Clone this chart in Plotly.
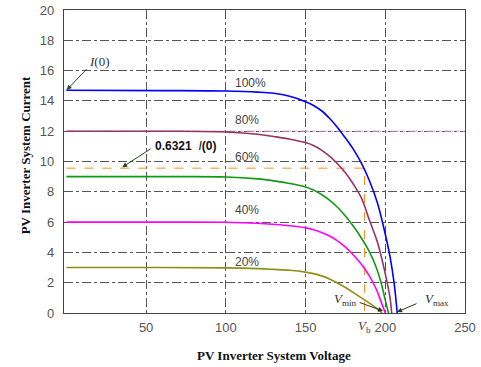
import plotly.graph_objects as go

# ---- data ----
V100 = [0, 60, 100, 120, 130, 140, 150, 155, 160, 165, 170, 175, 180, 185, 190, 195, 200, 203, 205.5, 207.5]
I100 = [14.7, 14.68, 14.65, 14.58, 14.5, 14.3, 13.95, 13.7, 13.35, 12.85, 12.25, 11.55, 10.8, 9.9, 8.75, 7.3, 5.2, 3.7, 2.0, 0]

V80 = [0, 60, 100, 120, 130, 140, 150, 155, 160, 165, 170, 175, 180, 185, 190, 195, 198, 201, 203, 204]
I80 = [12.0, 12.0, 11.95, 11.8, 11.65, 11.48, 11.25, 11.05, 10.75, 10.35, 9.85, 9.25, 8.5, 7.6, 6.15, 4.7, 3.5, 2.1, 1.0, 0]

V60 = [0, 60, 100, 120, 130, 140, 150, 155, 160, 165, 170, 175, 180, 185, 190, 194, 197, 200, 202]
I60 = [9.0, 9.0, 8.98, 8.85, 8.72, 8.55, 8.32, 8.12, 7.82, 7.45, 6.98, 6.4, 5.72, 4.95, 4.05, 3.1, 2.15, 0.85, 0]

V40 = [0, 60, 100, 120, 130, 140, 150, 155, 160, 165, 170, 175, 180, 185, 190, 194, 197, 200]
I40 = [6.0, 6.0, 5.99, 5.92, 5.85, 5.76, 5.62, 5.5, 5.32, 5.08, 4.76, 4.35, 3.83, 3.22, 2.45, 1.65, 0.85, 0]

V20 = [0, 60, 100, 120, 130, 140, 150, 155, 160, 165, 170, 175, 180, 185, 190, 194, 198]
I20 = [3.0, 3.0, 2.98, 2.93, 2.88, 2.82, 2.7, 2.6, 2.45, 2.25, 1.98, 1.68, 1.35, 1.0, 0.65, 0.35, 0]

series_names = ["100%", "80%", "60%", "40%", "20%"]
series_colors = ["#0000ff", "#993366", "#119911", "#ff00ff", "#8f8f14"]
label_y = [15.2, 12.76, 10.3, 6.81, 3.39]

ref80_level = 12.0          # dash-dot reference line
Vb = 187                    # V_b
Ib = 9.56                   # 0.6321 I(0)

x_ticks = [50, 100, 150, 200, 250]
y_ticks = list(range(0, 21, 2))

fig = go.Figure()

# reference lines
fig.add_trace(go.Scatter(x=[0, 250], y=[ref80_level, ref80_level], mode="lines",
                         line=dict(color="#cc99cc", width=1, dash="dashdot"), hoverinfo="skip"))
fig.add_trace(go.Scatter(x=[0, Vb, Vb], y=[Ib, Ib, 0], mode="lines",
                         line=dict(color="#ff8c1a", width=1, dash="dash"), hoverinfo="skip"))

for V, I, c in zip([V100, V80, V60, V40, V20], [I100, I80, I60, I40, I20], series_colors):
    fig.add_trace(go.Scatter(x=V, y=I, mode="lines",
                             line=dict(color=c, width=1.6, shape="spline", smoothing=1.0),
                             hoverinfo="skip"))

ann = []
for name, yy in zip(series_names, label_y):
    ann.append(dict(x=104.7, y=yy, text=name, showarrow=False, xanchor="left", yanchor="middle",
                    font=dict(family="Liberation Sans, Arial", size=12, color="#444444")))

arrow_col = "#1f4a1f"
# I(0)
ann.append(dict(x=0.2, y=14.72, ax=13.6, ay=16.2, axref="x", ayref="y", text="", showarrow=True,
                arrowhead=2, arrowsize=1, arrowwidth=1, arrowcolor=arrow_col))
ann.append(dict(x=20.5, y=16.6, text="<i>I</i>(0)", showarrow=False,
                font=dict(family="Liberation Serif, Times New Roman", size=13, color="#333333")))
# 0.6321 I(0)
ann.append(dict(x=35, y=9.62, ax=53.8, ay=10.9, axref="x", ayref="y", text="", showarrow=True,
                arrowhead=2, arrowsize=1, arrowwidth=1, arrowcolor=arrow_col))
ann.append(dict(x=54.5, y=11.0, xanchor="left", text="<b>0.6321</b>  <i>I</i><b>(0)</b>", showarrow=False,
                font=dict(family="Liberation Sans, Arial", size=12, color="#111111")))
# V_min
ann.append(dict(x=198.6, y=0.13, ax=183, ay=0.73, axref="x", ayref="y", text="", showarrow=True,
                arrowhead=2, arrowsize=1, arrowwidth=1, arrowcolor="#333322"))
ann.append(dict(x=175, y=0.9, text="<i>V</i><sub>min</sub>", showarrow=False,
                font=dict(family="Liberation Serif, Times New Roman", size=13, color="#333333")))
# V_max
ann.append(dict(x=207.4, y=0.07, ax=220.5, ay=0.66, axref="x", ayref="y", text="", showarrow=True,
                arrowhead=2, arrowsize=1, arrowwidth=1, arrowcolor="#333322"))
ann.append(dict(x=232.5, y=0.9, text="<i>V</i><sub>max</sub>", showarrow=False,
                font=dict(family="Liberation Serif, Times New Roman", size=13, color="#333333")))
# V_b tick label
ann.append(dict(x=Vb, xref="x", yref="paper", y=-0.043, yanchor="middle", text="<i>V</i><sub>b</sub>",
                showarrow=False,
                font=dict(family="Liberation Serif, Times New Roman", size=13, color="#444444")))
# axis titles
ann.append(dict(xref="paper", yref="paper", x=0.524, y=-0.139, xanchor="center", yanchor="middle",
                text="<b>PV Inverter System Voltage</b>",
                showarrow=False, font=dict(family="Liberation Serif, Times New Roman", size=13, color="#111111")))
ann.append(dict(xref="paper", yref="paper", x=-0.095, y=0.52, xanchor="center", yanchor="middle",
                text="<b>PV Inverter System Current</b>",
                textangle=-90, showarrow=False,
                font=dict(family="Liberation Serif, Times New Roman", size=13, color="#111111")))

axis_common = dict(showgrid=True, gridcolor="#555555", griddash="dashdot", gridwidth=1,
                   showline=True, linecolor="#444444", linewidth=1.2, mirror=True, zeroline=False,
                   automargin=False,
                   ticks="", tickfont=dict(family="Liberation Sans, Arial", size=13, color="#555555"))

fig.update_layout(
    width=481, height=367,
    margin=dict(l=64, r=16, t=10, b=54),
    paper_bgcolor="white", plot_bgcolor="white",
    showlegend=False,
    annotations=ann,
    xaxis=dict(range=[-1.5, 250], tickvals=x_ticks, ticklabelstandoff=2, **axis_common),
    yaxis=dict(range=[0, 20], tickvals=y_ticks, ticklabelstandoff=6, **axis_common),
)

fig.write_html("out.html", config={"displayModeBar": False},
               post_script="document.body.style.margin='0px';")
